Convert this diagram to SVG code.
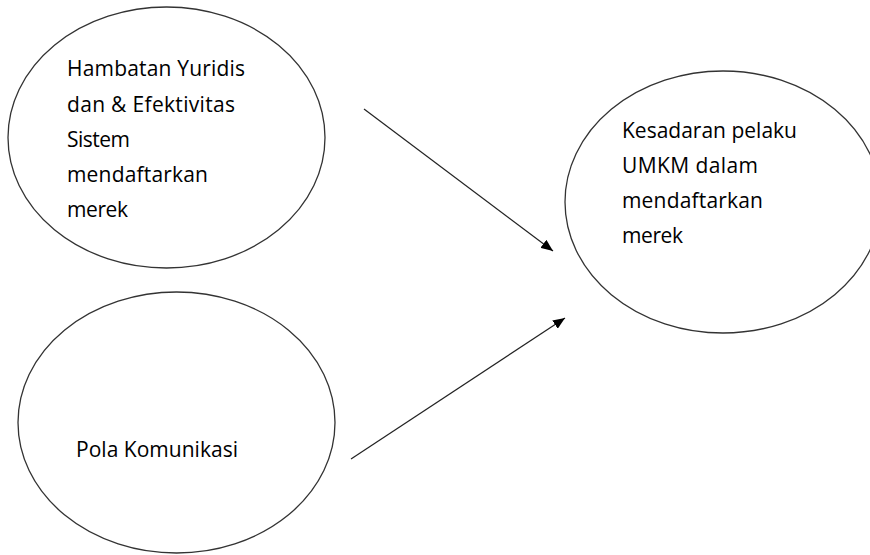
<svg xmlns="http://www.w3.org/2000/svg" width="870" height="555" viewBox="0 0 870 555">
<style>
.node{fill:#fff;stroke:#333;stroke-width:1.3}
.lbl{font-family:"Open Sans","Liberation Sans",sans-serif;font-size:21px;fill:#000}
.conn{stroke:#222;stroke-width:1.2;fill:none;marker-end:url(#ah)}
</style>
<defs>
<marker id="ah" viewBox="0 0 12 10" refX="12" refY="5" markerWidth="12" markerHeight="10" markerUnits="userSpaceOnUse" orient="auto">
<path d="M0,0 L12,5 L0,10 z" fill="#000"/>
</marker>
</defs>
<rect width="870" height="555" fill="#fff"/>
<g id="node-hambatan">
<ellipse class="node" cx="166.5" cy="137.5" rx="158.5" ry="130.5"/>
<text class="lbl" x="67" y="76" textLength="178">Hambatan Yuridis</text>
<text class="lbl" x="67" y="112" textLength="168">dan &amp; Efektivitas</text>
<text class="lbl" x="67" y="147" textLength="63">Sistem</text>
<text class="lbl" x="67" y="182" textLength="141">mendaftarkan</text>
<text class="lbl" x="67" y="217" textLength="61">merek</text>
</g>
<g id="node-pola">
<ellipse class="node" cx="176.5" cy="422.5" rx="158.5" ry="130.5"/>
<text class="lbl" x="76" y="457" textLength="162">Pola Komunikasi</text>
</g>
<g id="node-kesadaran">
<ellipse class="node" cx="723" cy="202" rx="158" ry="131"/>
<text class="lbl" x="622" y="138" textLength="175">Kesadaran pelaku</text>
<text class="lbl" x="622" y="173" textLength="136">UMKM dalam</text>
<text class="lbl" x="622" y="208" textLength="141">mendaftarkan</text>
<text class="lbl" x="622" y="243" textLength="61">merek</text>
</g>
<g id="connectors">
<line class="conn" x1="364" y1="109" x2="553" y2="251"/>
<line class="conn" x1="351" y1="459" x2="565" y2="318"/>
</g>
</svg>
